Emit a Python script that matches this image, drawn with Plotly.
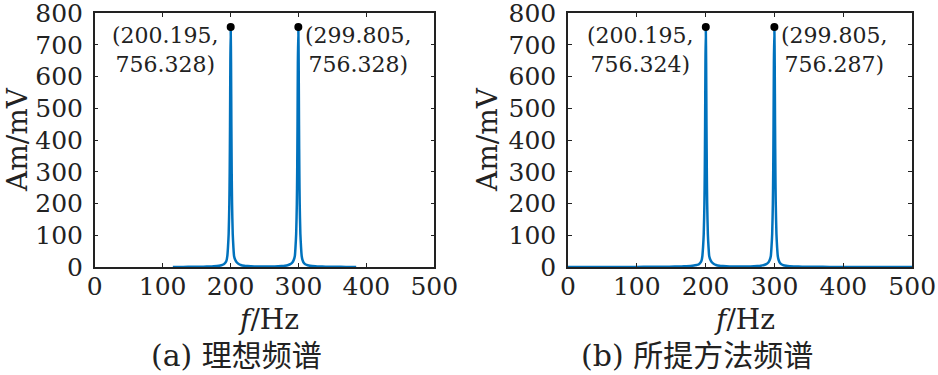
import plotly.graph_objects as go

# ---- data ----
# (a) ideal spectrum: frequency (Hz) and amplitude (mV)
freq_a = [115, 130, 145, 160, 170, 175, 180, 185, 188, 190, 192, 194, 195.2, 196.2, 197.2,
          198.2, 198.7, 199.2, 199.7, 200.195, 200.7, 201.2, 201.7, 202.2, 203.2, 204.2,
          205.2, 207, 209, 212, 215, 220, 225, 230, 235, 240, 245, 250, 255, 260, 265,
          270, 275, 280, 285, 288, 291, 293, 294.6, 295.6, 296.6, 297.6, 298.1, 298.6,
          299.1, 299.805, 300.3, 300.8, 301.3, 301.8, 302.8, 303.8, 304.8, 306, 308, 310,
          312, 315, 320, 325, 330, 340, 355, 370, 385]
amp_a = [0.3, 0.4, 0.6, 1.0, 1.5, 2.0, 2.8, 4.5, 6.5, 8.5, 12.5, 20, 34, 62, 104,
         200, 295, 446, 644, 756.328, 644, 446, 295, 200, 104, 62,
         34, 22, 15, 9.5, 6.4, 3.8, 2.8, 2.2, 1.9, 1.8, 1.7, 1.7, 1.7, 1.8, 1.9,
         2.2, 2.8, 3.8, 6.4, 9.0, 14, 22, 34, 62, 104, 200, 295, 446,
         644, 756.328, 644, 446, 295, 200, 104, 62, 34, 22, 12.5, 8.5,
         6.5, 4.5, 2.8, 2.0, 1.5, 1.0, 0.6, 0.4, 0.3]

# (b) proposed-method spectrum
freq_b = [0, 25, 50, 75, 100, 120, 140, 155, 165, 172, 178, 183, 187, 190, 192, 194,
          195.2, 196.2, 197.2, 198.2, 198.7, 199.2, 199.7, 200.195, 200.7, 201.2, 201.7,
          202.2, 203.2, 204.2, 205.2, 207, 209, 212, 215, 220, 225, 230, 235, 240, 245,
          250, 255, 260, 265, 270, 275, 280, 285, 288, 291, 293, 294.6, 295.6, 296.6,
          297.6, 298.1, 298.6, 299.1, 299.805, 300.3, 300.8, 301.3, 301.8, 302.8, 303.8,
          304.8, 306, 308, 310, 313, 317, 322, 328, 335, 345, 360, 380, 400, 425, 450,
          475, 500]
amp_b = [0.1, 0.15, 0.2, 0.3, 0.4, 0.6, 0.9, 1.3, 1.8, 2.4, 3.2, 4.6, 6.5, 8.5, 12.5, 20,
         34, 62, 104, 200, 295, 446, 644, 756.324, 644, 446, 295,
         200, 104, 62, 34, 22, 15, 9.5, 6.4, 3.8, 2.8, 2.2, 1.9, 1.8, 1.7,
         1.7, 1.7, 1.8, 1.9, 2.2, 2.8, 3.8, 6.4, 9.0, 14, 22, 34, 62, 104,
         200, 295, 446, 644, 756.287, 644, 446, 295, 200, 104, 62,
         34, 22, 12.5, 8.5, 5.5, 3.8, 2.6, 1.8, 1.3, 0.9, 0.6, 0.4, 0.3, 0.2, 0.15,
         0.12, 0.1]

peaks_a_x = [200.195, 299.805]
peaks_a_y = [756.328, 756.328]
peaks_b_x = [200.195, 299.805]
peaks_b_y = [756.324, 756.287]

x_ticks = [0, 100, 200, 300, 400, 500]
y_ticks = [0, 100, 200, 300, 400, 500, 600, 700, 800]
captions = ["(a) 理想频谱", "(b) 所提方法频谱"]
x_title = "<i>f</i>/Hz"
y_title = "Am/mV"

LINE = "#0072BD"
SERIF = "DejaVu Serif"
CJK = "Noto Sans CJK SC"
TXT = "#222"

W, H = 938, 375
fig = go.Figure()

# (x, y, peak x, peak y, xaxis, yaxis, x domain, y-title px, caption centre px, x-title px)
panels = [
    (freq_a, amp_a, peaks_a_x, peaks_a_y, "x", "y", [0.101, 0.463], 17, 237, 268),
    (freq_b, amp_b, peaks_b_x, peaks_b_y, "x2", "y2", [0.6055, 0.9725], 487, 697, 744),
]
ydom = [0.288, 0.965]

for i, (fx, fy, px, py, xa, ya, dom, ytx, capx, xtx) in enumerate(panels):
    fig.add_trace(go.Scatter(x=fx, y=fy, mode="lines", xaxis=xa, yaxis=ya,
                             line=dict(color=LINE, width=2.5, shape="spline", smoothing=0.6),
                             showlegend=False))
    fig.add_trace(go.Scatter(x=px, y=py, mode="markers", xaxis=xa, yaxis=ya,
                             marker=dict(color="black", size=8), showlegend=False))
    # peak labels
    fig.add_annotation(x=px[0], y=py[0], xref=xa, yref=ya,
                       text=f"({px[0]:.3f},<br>{py[0]:.3f})", showarrow=False,
                       xanchor="right", yanchor="top", align="center", xshift=-10, yshift=6,
                       font=dict(family=SERIF, size=22, color=TXT))
    fig.add_annotation(x=px[1], y=py[1], xref=xa, yref=ya,
                       text=f"({px[1]:.3f},<br>{py[1]:.3f})", showarrow=False,
                       xanchor="left", yanchor="top", align="center", xshift=5, yshift=6,
                       font=dict(family=SERIF, size=22, color=TXT))
    # x-axis title
    fig.add_annotation(x=xtx / W, y=1 - 319 / H, xref="paper", yref="paper",
                       text=x_title, showarrow=False, xanchor="center", yanchor="middle",
                       font=dict(family=SERIF, size=28, color=TXT))
    # y-axis title
    fig.add_annotation(x=ytx / W, y=(ydom[0] + ydom[1]) / 2, xref="paper", yref="paper",
                       text=y_title, showarrow=False, xanchor="center", yanchor="middle",
                       textangle=-90, font=dict(family=SERIF, size=28, color=TXT))
    # caption
    fig.add_annotation(x=capx / W, y=1 - 355 / H, xref="paper", yref="paper",
                       text=captions[i], showarrow=False, xanchor="center", yanchor="middle",
                       font=dict(family=f"{SERIF}, {CJK}", size=30, color=TXT))

axis_common = dict(showline=True, linecolor=TXT, linewidth=1.5, mirror="allticks",
                   ticks="inside", ticklen=4, tickwidth=1.2, tickcolor=TXT,
                   showgrid=False, zeroline=False, automargin=False,
                   ticklabeloverflow="allow",
                   tickfont=dict(family=SERIF, size=25, color=TXT))

xt = dict(range=[0, 500], tickvals=x_ticks, ticktext=[str(v) for v in x_ticks],
          ticklabelstandoff=-4, **axis_common)
yt = dict(range=[0, 800], tickvals=y_ticks, ticktext=[str(v) for v in y_ticks],
          ticklabelstandoff=5, **axis_common)

fig.update_layout(
    width=W, height=H,
    template="none",
    margin=dict(l=0, r=0, t=0, b=0),
    paper_bgcolor="white", plot_bgcolor="white",
    xaxis=dict(domain=panels[0][6], anchor="y", **xt),
    yaxis=dict(domain=ydom, anchor="x", **yt),
    xaxis2=dict(domain=panels[1][6], anchor="y2", **xt),
    yaxis2=dict(domain=ydom, anchor="x2", **yt),
)

fig.write_html("out.html", config={"displayModeBar": False},
               post_script="document.body.style.margin='0px';document.body.style.padding='0px';")
